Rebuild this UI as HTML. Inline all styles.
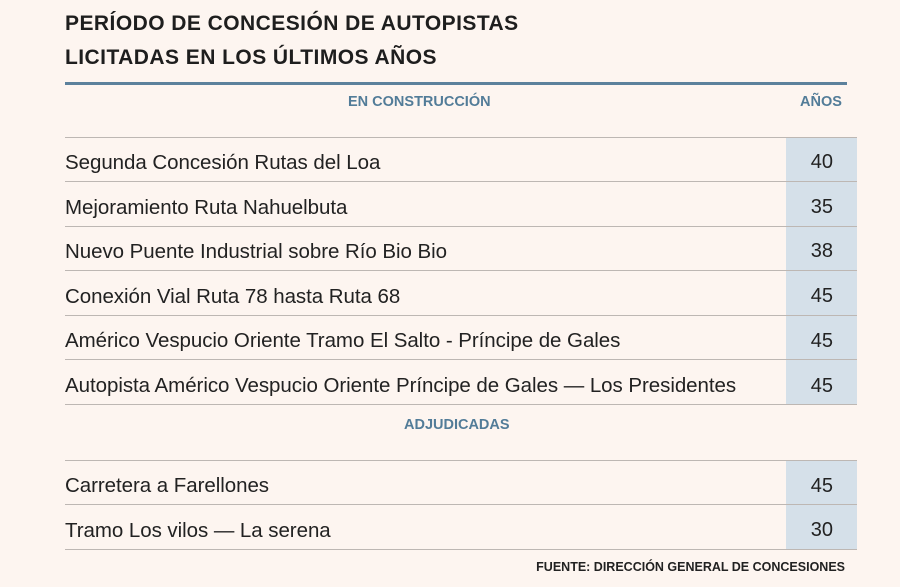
<!DOCTYPE html>
<html><head><meta charset="utf-8"><style>
body{margin:0;width:900px;height:587px;background:#fdf5f0;font-family:"Liberation Sans",sans-serif;position:relative;overflow:hidden;color:#222}
.t{position:absolute;left:65px;font-weight:bold;font-size:21px;letter-spacing:0.45px;color:#1e1e1e}
.rule{position:absolute;left:65px;width:782px;top:82px;height:3px;background:#5c819c}
.h{position:absolute;font-weight:bold;font-size:14.5px;color:#527c98}
.col{position:absolute;left:786px;width:71px;background:#d5e0e9}
.line{position:absolute;left:65px;width:792px;height:1px;background:#bdb7b3}
.r{position:absolute;left:65px;font-size:20.5px;color:#222;white-space:nowrap;letter-spacing:-0.05px}
.n{position:absolute;right:67px;font-size:20px;color:#222}
.f{position:absolute;right:55px;top:560px;font-weight:bold;font-size:12.5px;color:#222}
</style></head><body>
<div class="t" style="top:12px">PERÍODO DE CONCESIÓN DE AUTOPISTAS</div>
<div class="t" style="top:46px">LICITADAS EN LOS ÚLTIMOS AÑOS</div>
<div class="rule"></div>
<div class="h" style="left:348px;top:94px">EN CONSTRUCCIÓN</div>
<div class="h" style="left:800px;top:94px">AÑOS</div>
<div class="col" style="top:137px;height:267px"></div>
<div class="col" style="top:460px;height:89px"></div>
<div class="line" style="top:137px"></div>
<div class="line" style="top:181px"></div>
<div class="line" style="top:226px"></div>
<div class="line" style="top:270px"></div>
<div class="line" style="top:315px"></div>
<div class="line" style="top:359px"></div>
<div class="line" style="top:404px"></div>
<div class="line" style="top:460px"></div>
<div class="line" style="top:504px"></div>
<div class="line" style="top:549px"></div>
<div class="r" style="top:151px">Segunda Concesión Rutas del Loa</div><div class="n" style="top:151px">40</div>
<div class="r" style="top:196px">Mejoramiento Ruta Nahuelbuta</div><div class="n" style="top:196px">35</div>
<div class="r" style="top:240px">Nuevo Puente Industrial sobre Río Bio Bio</div><div class="n" style="top:240px">38</div>
<div class="r" style="top:285px">Conexión Vial Ruta 78 hasta Ruta 68</div><div class="n" style="top:285px">45</div>
<div class="r" style="top:329px">Américo Vespucio Oriente Tramo El Salto - Príncipe de Gales</div><div class="n" style="top:330px">45</div>
<div class="r" style="top:374px">Autopista Américo Vespucio Oriente Príncipe de Gales — Los Presidentes</div><div class="n" style="top:375px">45</div>
<div class="h" style="left:404px;top:417px">ADJUDICADAS</div>
<div class="r" style="top:474px">Carretera a Farellones</div><div class="n" style="top:475px">45</div>
<div class="r" style="top:519px">Tramo Los vilos — La serena</div><div class="n" style="top:519px">30</div>
<div class="f">FUENTE: DIRECCIÓN GENERAL DE CONCESIONES</div>
</body></html>
